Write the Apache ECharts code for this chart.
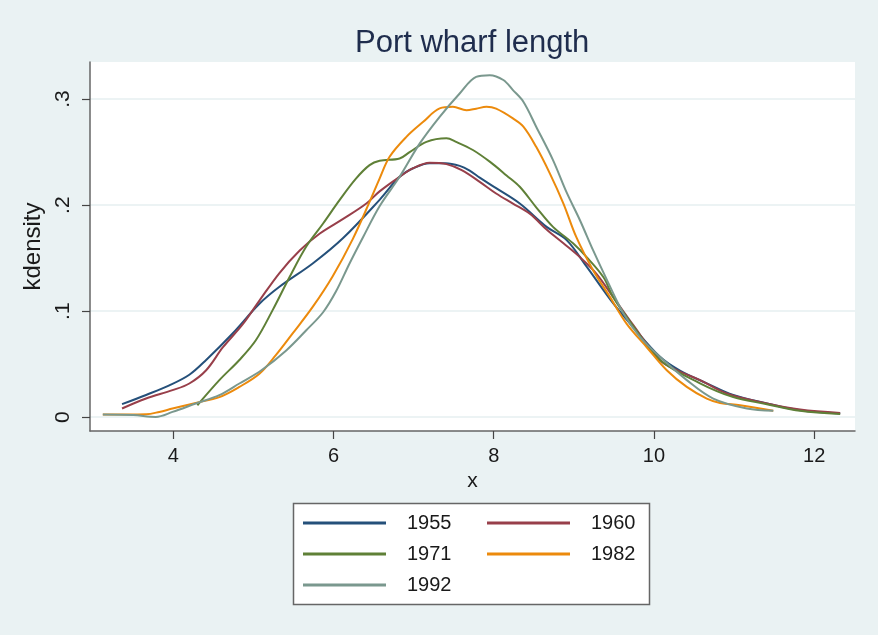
<!DOCTYPE html>
<html>
<head>
<meta charset="utf-8">
<script src="https://cdn.jsdelivr.net/npm/echarts@6/dist/echarts.min.js"></script>
<style>
html,body{margin:0;padding:0;background:#eaf2f3;}
#chart{width:878px;height:635px;}
</style>
</head>
<body>
<div id="chart"></div>
<script>
// ---- data ----
const titleText = 'Port wharf length';
const xName = 'x';
const yName = 'kdensity';
const xTicks = [4, 6, 8, 10, 12];
const yTicks = [0, 0.1, 0.2, 0.3];
const yTickLabels = ['0', '.1', '.2', '.3'];
const seriesNames = ['1955', '1960', '1971', '1982', '1992'];

const x1955 = [3.36, 3.66, 3.95, 4.2, 4.41, 4.74, 5.075, 5.325, 5.74, 6.12, 6.575, 6.825, 7.0, 7.2, 7.4, 7.575, 7.7, 7.825, 8.03, 8.325, 8.66, 8.91, 9.16, 9.49, 9.74, 10.075, 10.325, 10.66, 10.99, 11.41, 11.825, 12.325];
const y1955 = [0.0123, 0.021, 0.030, 0.040, 0.054, 0.079, 0.107, 0.123, 0.145, 0.169, 0.205, 0.2267, 0.235, 0.2396, 0.2396, 0.237, 0.2325, 0.226, 0.216, 0.2015, 0.1795, 0.167, 0.142, 0.1075, 0.085, 0.057, 0.044, 0.032, 0.021, 0.013, 0.0066, 0.0035];

const x1960 = [3.36, 3.66, 3.99, 4.2, 4.41, 4.62, 4.87, 5.075, 5.325, 5.575, 5.825, 6.12, 6.41, 6.575, 6.825, 6.99, 7.2, 7.41, 7.6, 7.825, 8.03, 8.24, 8.45, 8.66, 8.87, 9.075, 9.28, 9.49, 9.74, 10.075, 10.325, 10.575, 10.91, 11.41, 11.825, 12.325];
const y1960 = [0.0082, 0.0176, 0.0255, 0.0318, 0.0443, 0.066, 0.088, 0.110, 0.136, 0.157, 0.173, 0.187, 0.2015, 0.213, 0.2267, 0.2346, 0.24, 0.2387, 0.233, 0.222, 0.211, 0.2015, 0.192, 0.177, 0.164, 0.151, 0.1355, 0.1135, 0.087, 0.0538, 0.043, 0.035, 0.0224, 0.013, 0.0072, 0.004];

const x1971 = [4.3, 4.575, 4.825, 5.03, 5.24, 5.45, 5.66, 5.87, 6.075, 6.28, 6.45, 6.575, 6.825, 6.95, 7.16, 7.41, 7.53, 7.74, 7.95, 8.16, 8.325, 8.53, 8.74, 8.99, 9.16, 9.37, 9.49, 9.74, 10.075, 10.575, 10.99, 11.41, 11.825, 12.325];
const y1971 = [0.0113, 0.035, 0.054, 0.0726, 0.101, 0.132, 0.161, 0.1827, 0.2047, 0.225, 0.2377, 0.2418, 0.244, 0.250, 0.2597, 0.263, 0.2597, 0.252, 0.241, 0.228, 0.2173, 0.198, 0.1795, 0.164, 0.151, 0.132, 0.1135, 0.086, 0.054, 0.032, 0.019, 0.0123, 0.006, 0.003];

const x1982 = [3.12, 3.66, 3.825, 3.99, 4.28, 4.575, 4.825, 5.075, 5.28, 5.49, 5.74, 5.99, 6.24, 6.45, 6.575, 6.7, 6.91, 7.12, 7.325, 7.49, 7.66, 7.78, 7.91, 8.03, 8.24, 8.37, 8.53, 8.7, 8.87, 9.03, 9.24, 9.45, 9.66, 9.91, 10.16, 10.41, 10.66, 10.825, 11.075, 11.49];
const y1982 = [0.0025, 0.0028, 0.005, 0.0082, 0.0135, 0.019, 0.0286, 0.041, 0.0585, 0.079, 0.104, 0.133, 0.168, 0.203, 0.225, 0.2456, 0.2644, 0.2786, 0.2912, 0.2927, 0.2896, 0.291, 0.2927, 0.291, 0.2818, 0.274, 0.255, 0.23, 0.2015, 0.170, 0.1387, 0.1135, 0.088, 0.066, 0.0443, 0.0286, 0.0176, 0.0135, 0.0113, 0.006];

const x1992 = [3.12, 3.5, 3.78, 3.99, 4.28, 4.575, 4.825, 5.1, 5.41, 5.66, 5.87, 6.03, 6.2, 6.37, 6.575, 6.825, 7.075, 7.325, 7.575, 7.78, 7.95, 8.12, 8.24, 8.37, 8.53, 8.74, 8.91, 9.075, 9.24, 9.41, 9.62, 9.825, 10.075, 10.41, 10.74, 11.16, 11.49];
const y1992 = [0.0025, 0.002, 0.0003, 0.005, 0.0129, 0.0208, 0.0318, 0.0443, 0.063, 0.082, 0.099, 0.1185, 0.145, 0.170, 0.199, 0.2267, 0.258, 0.2833, 0.3053, 0.321, 0.3226, 0.318, 0.3085, 0.2975, 0.274, 0.2425, 0.212, 0.186, 0.1575, 0.130, 0.0978, 0.0758, 0.057, 0.035, 0.0176, 0.0082, 0.006];

// ---- styling ----
const colors = ['#25507a', '#983f4a', '#5f8037', '#ec8a0c', '#7a988e'];
const FONT = 'Liberation Sans, Arial, sans-serif';
const allX = [x1955, x1960, x1971, x1982, x1992];
const allY = [y1955, y1960, y1971, y1982, y1992];

const series = seriesNames.map((name, i) => ({
  name: name,
  type: 'line',
  showSymbol: false,
  smooth: 0.35,
  color: colors[i],
  lineStyle: { width: 2, color: colors[i] },
  data: allX[i].map((x, j) => [x, allY[i][j]]),
  z: 3 + i
}));

const chart = echarts.init(document.getElementById('chart'), null, { renderer: 'canvas' });
const legendCommon = {
  orient: 'vertical',
  icon: 'rect',
  itemWidth: 83,
  itemHeight: 3,
  itemGap: 11,
  padding: 0,
  selectedMode: false,
  textStyle: { fontFamily: FONT, fontSize: 20, lineHeight: 20, color: '#1a1a1a', padding: [0, 0, 0, 16] }
};
chart.setOption({
  backgroundColor: '#eaf2f3',
  animation: false,
  title: {
    text: titleText,
    left: 350,
    top: 23,
    textStyle: { fontFamily: FONT, fontSize: 31, fontWeight: 'normal', color: '#1f2d4d' }
  },
  legend: [
    Object.assign({}, legendCommon, { data: ['1955', '1971', '1992'], left: 303, top: 513 }),
    Object.assign({}, legendCommon, { data: ['1960', '1982'], left: 487, top: 513 })
  ],
  graphic: [{
    type: 'rect',
    shape: { x: 293.5, y: 503.5, width: 356, height: 101 },
    style: { fill: '#ffffff', stroke: '#666666', lineWidth: 1.5 },
    z: -1, silent: true
  }],
  grid: {
    left: 90, right: 23, top: 62, bottom: 204,
    show: true, backgroundColor: '#ffffff', borderWidth: 0
  },
  xAxis: {
    type: 'value',
    min: 2.96, max: 12.51,
    name: xName,
    nameLocation: 'middle',
    nameGap: 37,
    nameTextStyle: { fontFamily: FONT, fontSize: 21, color: '#1a1a1a' },
    axisLine: { show: true, onZero: false, lineStyle: { color: '#666666', width: 1.5 } },
    axisTick: { show: true, length: 8, customValues: xTicks, lineStyle: { color: '#444444', width: 1.2 } },
    axisLabel: { customValues: xTicks, margin: 15, fontFamily: FONT, fontSize: 20, color: '#1a1a1a' },
    splitLine: { show: false }
  },
  yAxis: {
    type: 'value',
    min: -0.013, max: 0.335,
    name: yName,
    nameLocation: 'middle',
    nameGap: 40,
    nameRotate: 90,
    nameTextStyle: { fontFamily: FONT, fontSize: 24, color: '#1a1a1a' },
    axisLine: { show: true, onZero: false, lineStyle: { color: '#666666', width: 1.5 } },
    axisTick: { show: true, length: 8, customValues: yTicks, lineStyle: { color: '#444444', width: 1.2 } },
    axisLabel: {
      customValues: yTicks, rotate: 90, margin: 16,
      fontFamily: FONT, fontSize: 21, color: '#1a1a1a',
      formatter: function (v) {
        const k = yTicks.findIndex(t => Math.abs(t - v) < 1e-9);
        return k >= 0 ? yTickLabels[k] : '';
      }
    },
    splitLine: { show: true, lineStyle: { color: '#e6eff1', width: 1.5 } }
  },
  series: series
});
</script>
</body>
</html>
